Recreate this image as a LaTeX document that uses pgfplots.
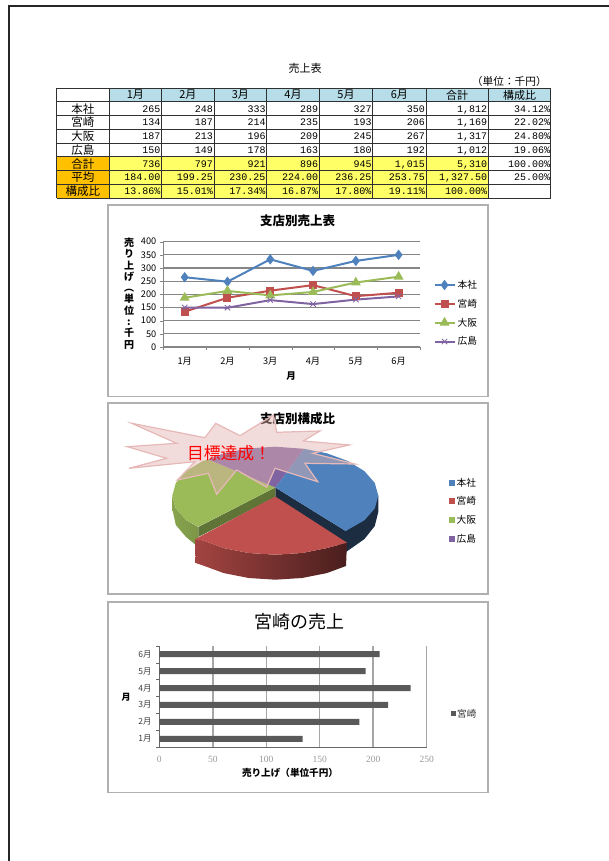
\documentclass[border=0pt]{standalone}
\usepackage{pgfplots}
\usepackage{fontspec}
\pgfplotsset{compat=1.18}
\setmainfont{Noto Sans CJK JP}
\newfontfamily\monof{Liberation Mono}
\newfontfamily\serf{Liberation Serif}
\definecolor{sb}{HTML}{4F81BD}
\definecolor{sr}{HTML}{C0504D}
\definecolor{sg}{HTML}{9BBB59}
\definecolor{sp}{HTML}{8064A2}
\definecolor{hdr}{HTML}{B7DEE8}
\definecolor{org}{HTML}{FFC000}
\definecolor{yel}{HTML}{FFFF66}
\definecolor{frm}{HTML}{B0B0B0}
\definecolor{grd}{HTML}{868686}
\definecolor{tbl}{HTML}{303030}
\definecolor{star}{HTML}{E2B2AF}
\begin{document}
\begin{tikzpicture}
\path[use as bounding box] (0,0) rectangle (609pt,861pt);
\begin{scope}[x=1pt,y=-1pt,yshift=861pt]
% page frame
\draw[black!85,line width=2pt] (8.5,861) -- (8.5,6.5) -- (609,6.5);
% heading
\node[font=\fontsize{11}{12}\selectfont] at (305,68) {売上表};
\node[font=\fontsize{10.7}{12}\selectfont,anchor=east,inner sep=0pt] at (547,81) {（単位：千円）};
% table fills
\fill[hdr] (109,88.3) rectangle (550.7,101.7);
\fill[org] (56.7,156.7) rectangle (109,198.3);
\fill[yel] (109,156.7) rectangle (488.3,198.3);
\foreach \x in {56.7,109,161.7,214,266.7,319.3,372.7,426,488.3,550.7}
  \draw[tbl,line width=1pt] (\x,88.3) -- (\x,198.3);
\foreach \y in {88.3,101.7,115.7,129.3,143.3,156.7,170.7,184.3,198.3}
  \draw[tbl,line width=1pt] (56.7,\y) -- (550.7,\y);
% header row
\foreach \x/\t in {135.3/1月,187.8/2月,240.3/3月,293/4月,346/5月,399.3/6月,457.1/合計,519.5/構成比}
  \node[font=\fontsize{11}{12}\selectfont] at (\x,95) {\t};
% row names
\foreach \y/\t in {108.7/本社,122.5/宮崎,136.3/大阪,150/広島,163.7/合計,177.5/平均,191.3/構成比}
  \node[font=\fontsize{11.5}{12}\selectfont] at (82.8,\y) {\t};
% numbers
\foreach \yy/\a/\b/\c/\d/\e/\f/\g/\h in {
108.7/265/248/333/289/327/350/{1,812}/34.12\%,
122.5/134/187/214/235/193/206/{1,169}/22.02\%,
136.3/187/213/196/209/245/267/{1,317}/24.80\%,
150/150/149/178/163/180/192/{1,012}/19.06\%,
163.7/736/797/921/896/945/{1,015}/{5,310}/100.00\%,
177.5/184.00/199.25/230.25/224.00/236.25/253.75/{1,327.50}/25.00\%,
191.3/13.86\%/15.01\%/17.34\%/16.87\%/17.80\%/19.11\%/100.00\%/}{
  \foreach \xx/\v in {160.7/\a,213/\b,265.7/\c,318.3/\d,371.7/\e,425/\f,487.3/\g,550.2/\h}
    \node[font=\monof\fontsize{10}{12}\selectfont,anchor=east,inner sep=0pt,text height=7pt,text depth=0pt] at (\xx,\yy) {\v};
}
% chart frames
\draw[frm,line width=1.3pt] (108,205) rectangle (488,396.5);
\draw[frm,line width=1.3pt] (108,403) rectangle (488,594);
\draw[frm,line width=1.3pt] (108,602) rectangle (488,792.5);
% chart 1 text
\node[font=\bfseries\fontsize{12.5}{13}\selectfont] at (297.7,221) {支店別売上表};
\node[font=\bfseries\fontsize{10}{11.3}\selectfont,align=center,inner sep=0pt] at (129,293.5)
  {売\\り\\上\\げ\\︵\\単\\位\\:\\千\\円};
\node[font=\bfseries\fontsize{9.5}{10}\selectfont] at (291,376.5) {月};
\end{scope}

% line chart
\begin{axis}[
  at={(163.3pt,514pt)},anchor=south west,scale only axis,
  width=256.7pt,height=105.3pt,
  xmin=0.5,xmax=6.5,ymin=0,ymax=400,
  axis y line*=left,axis x line*=bottom,
  axis line style={grd,-},
  xtick={1,2,3,4,5,6},xticklabels={1月,2月,3月,4月,5月,6月},
  minor xtick={0.5,1.5,2.5,3.5,4.5,5.5,6.5},
  ytick={0,50,100,150,200,250,300,350,400},
  ymajorgrids,grid style={grd,line width=1.1pt},
  major x tick style={draw=none},
  minor x tick style={grd},
  y tick style={grd},
  tick align=outside,major tick length=3pt,minor tick length=3pt,
  tick label style={font=\fontsize{9.2}{10}\selectfont,/pgf/number format/assume math mode=true},
  yticklabel style={xshift=-0.5pt},
  xticklabel style={yshift=-4pt},
  legend style={at={(1.052,0.32)},anchor=west,draw=none,fill=none,legend cell align=left,
    font=\fontsize{9.7}{11}\selectfont,row sep=5.2pt,inner sep=0pt},
  legend image code/.code={\draw[mark repeat=2,mark phase=2,#1] plot coordinates {(0pt,0pt)(10pt,0pt)(20pt,0pt)};},
  clip=false]
\addplot[sb,line width=2pt,mark=diamond*,mark size=3.6pt,mark options={solid}] coordinates {(1,265)(2,248)(3,333)(4,289)(5,327)(6,350)};
\addlegendentry{本社}
\addplot[sr,line width=2pt,mark=square*,mark size=3pt] coordinates {(1,134)(2,187)(3,214)(4,235)(5,193)(6,206)};
\addlegendentry{宮崎}
\addplot[sg,line width=2pt,mark=triangle*,mark size=3.8pt] coordinates {(1,187)(2,213)(3,196)(4,209)(5,245)(6,267)};
\addlegendentry{大阪}
\addplot[sp,line width=2pt,mark=x,mark size=3.8pt,mark options={line width=0.8pt}] coordinates {(1,150)(2,149)(3,178)(4,163)(5,180)(6,192)};
\addlegendentry{広島}
\end{axis}

% pie, axis units are picture pixels
\begin{axis}[
  at={(105pt,263pt)},anchor=south west,scale only axis,
  width=385pt,height=198pt,
  xmin=105,xmax=490,ymin=400,ymax=598,y dir=reverse,
  hide axis,clip=false]
\node[font=\bfseries\fontsize{12.5}{13}\selectfont] at (axis cs:297.7,419) {支店別構成比};
% sides
\addplot[draw=none,fill=sb!35!black,forget plot]
 coordinates {(275.3,487.5)(275.3,497)(346,552)(364.5,539)(374.8,526)(378.3,512)(378.3,495.7)(345.7,531)} --cycle;
\addplot[draw=none,left color=sg!88!black,right color=sg!80!black,forget plot]
 coordinates {(172.3,495.7)(175.8,508.4)(186.1,520.2)(198.3,527)(198.3,547)(186.1,537)(175.8,525)(172.5,510)} --cycle;
\addplot[draw=none,fill=sg!62!black,forget plot]
 coordinates {(275.3,487.5)(275.3,497)(198.3,537)(198.3,527)} --cycle;
% top faces
\addplot[draw=none,fill=sb,forget plot]
 coordinates {(275.3,487.5)(304,448.8)(326.8,453.3)(348.1,461.1)(364.5,471.2)(374.8,483)(378.3,495.7)(374.8,508.4)(364.5,520.2)(345.7,531)} --cycle;
\addplot[draw=none,fill=sg,forget plot]
 coordinates {(275.3,487.5)(198.3,526.7)(186.1,520.2)(175.8,508.4)(172.3,495.7)(175.8,483)(186.1,471.2)(202.5,461.1)(208.5,459.5)} --cycle;
\addplot[draw=none,fill=sp,forget plot]
 coordinates {(275.3,487.5)(208.5,459.5)(223.8,453.3)(248.6,448.4)(275.3,446.7)(304,448.8)} --cycle;
% red slice, pulled out
\addplot[draw=none,left color=sr!85!black,right color=sr!38!black,forget plot]
 coordinates {(195,539.3)(202.5,540.3)(223.8,548.1)(248.6,553)(275.3,554.7)(302,553)(326.8,548.1)(347,542.7)(346,566)(326.8,573.1)(302,578)(275.3,579.7)(248.6,578)(223.8,573.1)(202.5,565.3)(195.7,563)} --cycle;
\addplot[draw=none,fill=sr,forget plot]
 coordinates {(275.3,496.5)(195,539.3)(202.5,540.3)(223.8,548.1)(248.6,553)(275.3,554.7)(302,553)(326.8,548.1)(347,542.7)} --cycle;
% starburst callout
\addplot[draw=sr!40!white,line width=1.2pt,fill=star,fill opacity=0.45,forget plot]
 coordinates {(131.7,423.3)(205,437.7)(215.7,423.3)(240,435.7)(273.5,415)(276.7,432.3)(320,431)(303.3,441)(349.3,445)(312.7,453.3)(355,464)(305,463.3)(317.7,481.7)(275,468.3)(266.7,487.2)(236.7,470)(216.7,494.3)(208.3,473.3)(177.3,480)(195,461.7)(129,468.3)(166.7,458.3)(127.3,446.7)(176.7,443.3)} --cycle;
\node[text=red,font=\fontsize{16.8}{18}\selectfont] at (axis cs:229,453) {目標達成！};
\end{axis}

\begin{scope}[x=1pt,y=-1pt,yshift=861pt]
\foreach \y/\c/\t in {482.7/sb/本社,501.3/sr/宮崎,520/sg/大阪,538.7/sp/広島}{
  \fill[\c] (449,\y-3) rectangle (455,\y+3);
  \node[font=\fontsize{9.7}{11}\selectfont,anchor=west,inner sep=0pt] at (456.5,\y) {\t};
}
% chart 3 text
\node[font=\fontsize{18}{20}\selectfont] at (299,621.5) {宮崎の売上};
\node[font=\bfseries\fontsize{9.6}{10}\selectfont] at (290,773) {売り上げ（単位千円）};
\node[font=\bfseries\fontsize{9}{10}\selectfont] at (126,697) {月};
\fill[black!65] (451,711.5) rectangle (455.5,716);
\node[font=\fontsize{9.6}{11}\selectfont,anchor=west,inner sep=0pt,text=black!80] at (457,714) {宮崎};
\end{scope}

% bar chart
\begin{axis}[
  at={(159.3pt,113.7pt)},anchor=south west,scale only axis,
  width=267.4pt,height=101.6pt,
  xmin=0,xmax=250,ymin=0.5,ymax=6.5,
  axis y line*=left,axis x line*=bottom,
  axis line style={black!60,-},
  xbar,bar width=6pt,
  ytick={1,2,3,4,5,6},yticklabels={1月,2月,3月,4月,5月,6月},
  minor ytick={0.5,1.5,2.5,3.5,4.5,5.5,6.5},
  xtick={0,50,100,150,200,250},
  xmajorgrids,grid style={black!35,line width=1.5pt},
  major y tick style={draw=none},
  minor y tick style={black!60},
  x tick style={draw=none},
  tick align=outside,minor tick length=3pt,
  yticklabel style={font=\fontsize{8.5}{10}\selectfont,text=black!75},
  xticklabel style={font=\serf\fontsize{9.5}{10}\selectfont,text=black!40,/pgf/number format/assume math mode=true,yshift=-1pt},
  clip=false]
\addplot[draw=none,fill=black!65] coordinates {(134,1)(187,2)(214,3)(235,4)(193,5)(206,6)};
\end{axis}
\end{tikzpicture}
\end{document}
